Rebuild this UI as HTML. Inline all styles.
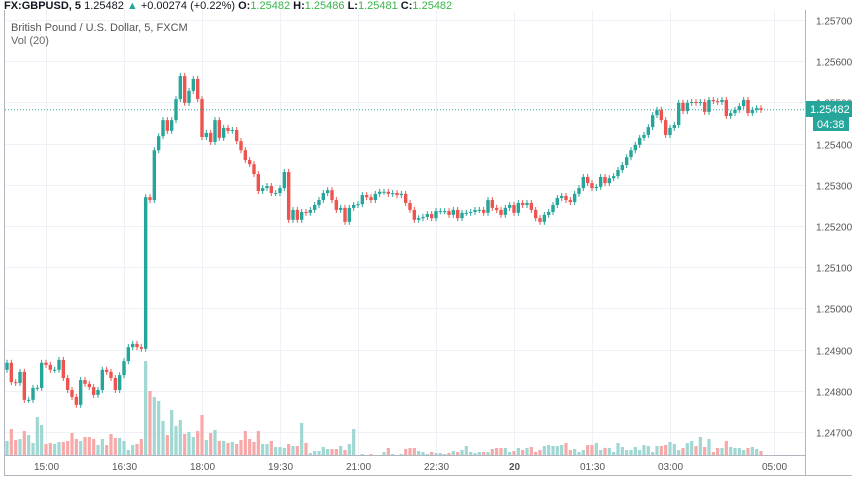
<!DOCTYPE html>
<html><head><meta charset="utf-8">
<style>
html,body{margin:0;padding:0;background:#fff;width:852px;height:485px;overflow:hidden;font-family:"Liberation Sans",sans-serif}
svg{display:block}
</style></head>
<body>
<svg id="chart" width="852" height="485" viewBox="0 0 852 485" xmlns="http://www.w3.org/2000/svg">
  <rect x="0" y="0" width="852" height="485" fill="#ffffff"/>
  <g id="grid"></g>
  <g id="vols"></g>
  <g id="candles"></g>
  <line x1="5" y1="109.8" x2="805" y2="109.8" stroke="#26a69a" stroke-width="1" stroke-dasharray="1,2"/>
  <line x1="4.5" y1="10" x2="4.5" y2="475" stroke="#b2b5be"/>
  <line x1="805.5" y1="10" x2="805.5" y2="475" stroke="#b2b5be"/>
  <line x1="4" y1="455.5" x2="806" y2="455.5" stroke="#b2b5be"/>
  <line x1="4" y1="475.5" x2="852" y2="475.5" stroke="#b2b5be"/>
  <g id="yaxis"></g>
  <g id="xaxis"></g>
  <rect x="806" y="101" width="46" height="16" fill="#26a69a"/>
  <text x="810" y="113" font-size="11" fill="#fff">1.25482</text>
  <rect x="813" y="117" width="36" height="14" fill="#26a69a"/>
  <text x="817" y="128" font-size="11" fill="#fff">04:38</text>
  <text x="4" y="9" font-size="11"><tspan font-weight="bold" fill="#131722">FX:GBPUSD, 5</tspan><tspan fill="#131722"> 1.25482 </tspan><tspan fill="#26a69a">▲</tspan><tspan fill="#131722"> +0.00274 (+0.22%) </tspan><tspan font-weight="bold" fill="#131722">O:</tspan><tspan fill="#39b54a">1.25482 </tspan><tspan font-weight="bold" fill="#131722">H:</tspan><tspan fill="#39b54a">1.25486 </tspan><tspan font-weight="bold" fill="#131722">L:</tspan><tspan fill="#39b54a">1.25481 </tspan><tspan font-weight="bold" fill="#131722">C:</tspan><tspan fill="#39b54a">1.25482</tspan></text>
  <text x="11" y="31" font-size="11" fill="#555">British Pound / U.S. Dollar, 5, FXCM</text>
  <text x="11" y="44" font-size="11" fill="#666">Vol (20)</text>
</svg>
<script>
const firstOpen = 1.24851;
const closes = [
1.24868,1.24821,1.24819,1.24846,1.24778,1.24778,1.24807,1.24807,1.24868,1.24863,1.24851,1.24851,1.24875,1.24831,1.24802,1.24785,1.24766,1.24826,1.24817,1.24809,1.24790,1.24802,1.24851,1.24846,1.24831,1.24802,1.24838,1.24872,1.24906,1.24914,1.24906,1.24902,
1.25270,1.25263,1.25384,1.25418,1.25457,1.25431,1.25457,1.25508,1.25564,1.25499,1.25528,1.25557,1.25508,1.25416,1.25426,1.25404,1.25457,1.25414,1.25438,1.25431,1.25433,1.25406,1.25384,1.25360,1.25350,1.25326,1.25285,1.25292,1.25297,1.25280,1.25280,1.25292,1.25331,1.25215,
1.25239,1.25215,1.25234,1.25232,1.25239,1.25251,1.25263,1.25280,1.25287,1.25263,1.25239,1.25244,1.25210,1.25244,1.25251,1.25253,1.25275,1.25270,1.25263,1.25278,
1.25283,1.25283,1.25278,1.25280,1.25275,1.25278,1.25256,1.25239,1.25215,1.25219,1.25222,1.25229,1.25219,1.25236,1.25236,1.25236,1.25227,1.25239,1.25219,1.25232,
1.25232,1.25234,1.25239,1.25239,1.25232,1.25263,1.25244,1.25239,1.25227,1.25244,1.25251,1.25232,1.25256,1.25251,1.25256,1.25239,1.25219,1.25210,1.25227,1.25234,
1.25251,1.25268,1.25273,1.25263,1.25258,1.25278,1.25292,1.25319,1.25304,1.25292,1.25295,1.25319,
1.25304,1.25316,1.25321,1.25336,1.25348,1.25367,1.25384,1.25397,1.25414,1.25421,1.25440,1.25469,1.25482,1.25457,1.25421,1.25438,1.25445,1.25499,1.25479,1.25499,1.25501,1.25499,1.25501,1.25477,1.25506,1.25503,1.25501,1.25506,1.25467,1.25474,1.25482,1.25491,1.25506,1.25474,1.25482,1.25486,1.25482
];
const volumes = [
14,26,15,16,24,20,12,38,30,11,12,11,13,13,14,22,16,14,18,18,16,10,16,10,21,17,17,14,5,10,11,16,
94,64,58,54,34,20,45,29,35,21,23,18,24,40,15,22,25,14,14,12,13,11,15,24,16,13,24,11,11,14,8,8,7,11,9,
9,32,12,2,4,4,8,6,6,6,9,5,11,26,0,1,0,1,0,0,3,7,1,0,1,6,7,7,4,3,1,3,2,2,1,2,4,3,5,9,3,2,3,3,3,6,7,7,7,3,4,7,5,7,8,3,5,9,10,9,9,10,12,5,6,3,5,10,10,12,5,7,7,3,12,8,5,5,8,5,10,9,3,9,9,10,13,11,5,7,12,14,9,18,8,16,3,7,7,14,8,7,7,5,7,8,6,4,2
];
const priceTicks = [1.247,1.248,1.249,1.250,1.251,1.252,1.253,1.254,1.255,1.256,1.257];
const timeLabels = ["15:00","16:30","18:00","19:30","21:00","22:30","20","01:30","03:00","05:00"];
const timeLabelIndex = [9,27,45,63,81,99,117,135,153,177];

const NS="http://www.w3.org/2000/svg";
const yP = p => 20 + (1.257 - p) * 41200;
const xI = i => 7 + i * 4.3333;
const yV = v => 455 - v;
function mk(tag, attrs, parent){const e=document.createElementNS(NS,tag);for(const k in attrs)e.setAttribute(k,attrs[k]);parent.appendChild(e);return e;}
const grid=document.getElementById('grid'), cg=document.getElementById('candles'), vg=document.getElementById('vols');
const ya=document.getElementById('yaxis'), xa=document.getElementById('xaxis');

priceTicks.forEach(p=>{
  const y=Math.round(yP(p))+0.5;
  const l=mk('line',{x1:5,x2:805,y1:y,y2:y,stroke:'#eef1f6'},grid);
  
  
  const t=mk('text',{x:816,y:y+4,'font-size':10,fill:'#555'},ya);
  t.textContent=p.toFixed(5);
  
  
});
timeLabels.forEach((s,k)=>{
  const x=Math.round(xI(timeLabelIndex[k]))+0.5;
  const l=mk('line',{x1:x,x2:x,y1:10,y2:455,stroke:'#eef1f6'},grid);
  
  
  const t=mk('text',{x:x,y:470,'font-size':10,fill:'#555','text-anchor':'middle','font-weight':s==="20"?'bold':'normal'},xa);
  t.textContent=s;
  
  
});

let prev=firstOpen;
closes.forEach((c,i)=>{
  const o=prev; prev=c;
  const up=c>=o;
  const col=up?'#26a69a':'#ef5350';
  const x=xI(i);
  const top=Math.min(yP(o),yP(c)), bot=Math.max(yP(o),yP(c));
  const w=mk('line',{x1:x,x2:x,y1:top-3,y2:bot+3,stroke:col,'stroke-width':1},cg);
  
  
  const b=mk('rect',{x:x-1.7,y:top,width:3.4,height:Math.max(1,bot-top),fill:col},cg);
  
  
  const v=volumes[i]||0;
  const vb=mk('rect',{x:x-1.6,y:yV(v),width:3.2,height:v,fill:up?'#9fd8d2':'#f6a9a8'},vg);
  
  
});
</script>
</body></html>
